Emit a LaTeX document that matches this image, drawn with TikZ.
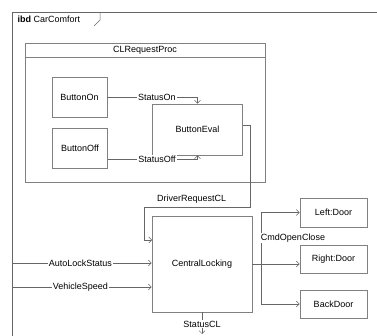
\documentclass[tikz,border=0pt]{standalone}
\usepackage{fontspec}
\setmainfont{Liberation Sans}
\usetikzlibrary{arrows.meta}
\begin{document}
\begin{tikzpicture}[x=1pt, y=-1pt, font=\fontsize{9}{10}\selectfont,
    block/.style = {draw=gray, line width=0.6pt, inner sep=0pt},
    conn/.style = {draw=gray!80!black, line width=0.5pt},
    flow/.style = {conn, -{Straight Barb[length=3pt, width=6pt]}},
    lbl/.style = {fill=white, inner sep=1pt}]
    \useasboundingbox (0,0) rectangle (377,336);
    % frame
    \draw[conn] (12,336) -- (12,12) -- (377,12);
    \draw[conn] (100,12) -- (100,20) -- (94,26);
    \node[anchor=west] (title) at (14,19) {\textbf{ibd} CarComfort};
    % CLRequestProc
    \draw[block] (25,43) rectangle (265,182);
    \draw[block] (25,57) -- (265,57);
    \node (proc) at (145,50) {CLRequestProc};
    \node[block, minimum width=55pt, minimum height=40pt] (on) at (79.5,97) {ButtonOn};
    \node[block, minimum width=55pt, minimum height=40pt] (off) at (80,148) {ButtonOff};
    \node[block, minimum width=90pt, minimum height=51pt] (eval) at (197.5,129.5) {ButtonEval};
    % parts
    \node[block, minimum width=100pt, minimum height=96pt] (cl) at (202,264) {CentralLocking};
    \node[block, minimum width=67pt, minimum height=29pt] (left) at (333.5,212.5) {Left:Door};
    \node[block, minimum width=67pt, minimum height=28pt] (right) at (333.5,259) {Right:Door};
    \node[block, minimum width=67pt, minimum height=28pt] (back) at (333.5,304) {BackDoor};
    % connector ends
    \coordinate (offout) at (107.5,159);
    \coordinate (evalout) at (242.5,125);
    \coordinate (bend) at (250,207);
    \coordinate (clin) at (152,240);
    \coordinate (als) at (12,263);
    \coordinate (vs) at (12,287);
    \coordinate (fork) at (261,264);
    \coordinate (clout) at (202,334);
    % connectors
    \draw[flow] (on.east) -- node[lbl, pos=0.55] {StatusOn} (on.east -| eval.north) -- (eval.north);
    \draw[flow] (offout) -- node[lbl, pos=0.55] {StatusOff} (offout -| eval.south) -- (eval.south);
    \draw[flow] (evalout) -| (bend) -- node[above, pos=0.55] {DriverRequestCL} (bend -| 144,0) |- (clin);
    \draw[flow] (als) -- node[lbl, pos=0.49] {AutoLockStatus} (als -| cl.west);
    \draw[flow] (vs) -- node[lbl, pos=0.49] {VehicleSpeed} (vs -| cl.west);
    \draw[conn] (cl.east) -- (fork);
    \draw[flow] (fork) |- (left.west);
    \draw[flow] (fork) -- (fork -| right.west);
    \draw[flow] (fork) |- (back.west);
    \node[lbl] (cmd) at (293,238) {CmdOpenClose};
    \draw[flow] (cl.south) -- node[lbl, pos=0.55] {StatusCL} (clout);
\end{tikzpicture}
\end{document}
